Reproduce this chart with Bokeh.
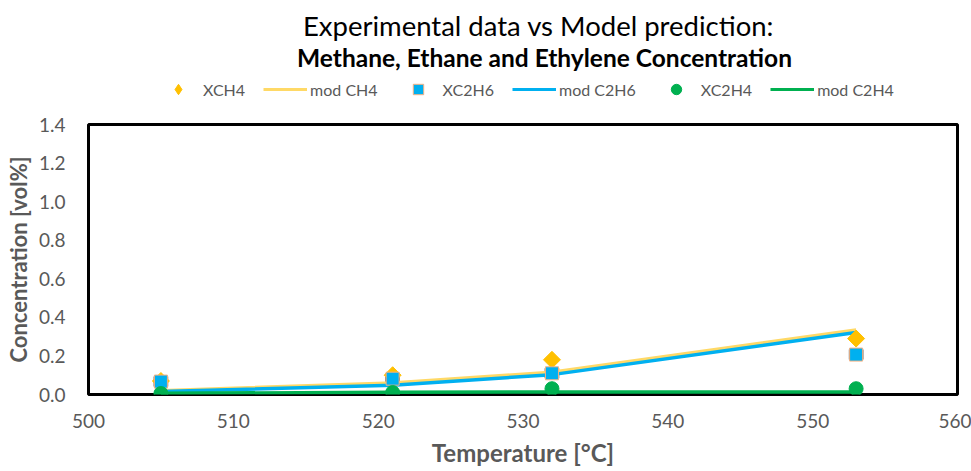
import math
from bokeh.plotting import figure
from bokeh.layouts import column
from bokeh.models import (ColumnDataSource, Legend, LegendItem, Label, FixedTicker,
                          PrintfTickFormatter, Range1d, Whisker, TeeHead)
from bokeh.embed import file_html
from bokeh.resources import INLINE

# ---- data ----
temps = [505, 521, 532, 553]
x_ch4 = [0.07, 0.10, 0.18, 0.29]
mod_ch4 = [0.02, 0.06, 0.115, 0.335]
x_c2h6 = [0.067, 0.082, 0.11, 0.207]
mod_c2h6 = [0.015, 0.048, 0.103, 0.322]
temp_err = [0.45, 0.45, 0.45, 0.45]
x_c2h4 = [0.005, 0.01, 0.03, 0.03]
mod_c2h4 = [0.006, 0.012, 0.013, 0.013]
x_ticks = [500, 510, 520, 530, 540, 550, 560]
y_ticks = [0.0, 0.2, 0.4, 0.6, 0.8, 1.0, 1.2, 1.4]

FONT = "Lato"
GREY = "#595959"
C_CH4_PT, C_CH4_LN = "#FFC000", "#FFD966"
C_C2H6 = "#00B0F0"
C_C2H4 = "#00B050"
DIAMOND_ANGLE = math.pi / 4

src = ColumnDataSource(dict(
    t=temps, xch4=x_ch4, mch4=mod_ch4, xc2h6=x_c2h6, mc2h6=mod_c2h6,
    xc2h4=x_c2h4, mc2h4=mod_c2h4,
    lo=[t - e for t, e in zip(temps, temp_err)],
    hi=[t + e for t, e in zip(temps, temp_err)],
))

LEFT, RIGHT = 88, 14
HEAD_H = 104

# ---------- header (titles + legend) ----------
head = figure(width=971, height=HEAD_H, output_backend="svg", toolbar_location=None,
              x_range=Range1d(LEFT, 971 - RIGHT), y_range=Range1d(0, HEAD_H),
              x_axis_location=None, y_axis_location=None,
              min_border_left=LEFT, min_border_right=RIGHT,
              min_border_top=0, min_border_bottom=0)
head.outline_line_color = None
head.xgrid.visible = False
head.ygrid.visible = False
head.background_fill_color = "white"
head.border_fill_color = "white"

head.add_layout(Label(x=538, y=HEAD_H - 25, text="Experimental data vs Model prediction:",
                      text_align="center", text_baseline="middle", text_font=FONT,
                      text_font_size="27.5px", text_color="black"))
head.add_layout(Label(x=544, y=HEAD_H - 57, text="Methane, Ethane and Ethylene Concentration",
                      text_align="center", text_baseline="middle", text_font=FONT,
                      text_font_size="24.5px", text_font_style="bold", text_color="black"))

# legend proxies (hidden in the header; only their legend swatches show)
h_ch4 = head.scatter("t", "xch4", source=src, marker="diamond", size=14,
                     fill_color=C_CH4_PT, line_color=C_CH4_PT, visible=False)
h_mch4 = head.line("t", "mch4", source=src, line_color=C_CH4_LN, line_width=3, visible=False)
h_c2h6 = head.scatter("t", "xc2h6", source=src, marker="square", size=10,
                      fill_color=C_C2H6, line_color="#F4B183", visible=False)
h_mc2h6 = head.line("t", "mc2h6", source=src, line_color=C_C2H6, line_width=3, visible=False)
h_c2h4 = head.scatter("t", "xc2h4", source=src, marker="circle", size=10,
                      fill_color=C_C2H4, line_color=C_C2H4, visible=False)
h_mc2h4 = head.line("t", "mc2h4", source=src, line_color=C_C2H4, line_width=3, visible=False)

legend = Legend(items=[
    LegendItem(label="XCH4", renderers=[h_ch4]),
    LegendItem(label="mod CH4", renderers=[h_mch4]),
    LegendItem(label="XC2H6", renderers=[h_c2h6]),
    LegendItem(label="mod C2H6", renderers=[h_mc2h6]),
    LegendItem(label="XC2H4", renderers=[h_c2h4]),
    LegendItem(label="mod C2H4", renderers=[h_mc2h4]),
], orientation="horizontal", location=(156 - LEFT, 2),
    border_line_color=None, background_fill_alpha=0,
    inactive_fill_alpha=0,
    label_text_font=FONT, label_text_font_size="16px", label_text_color=GREY,
    glyph_width=44, glyph_height=26, label_standoff=3, spacing=18,
    padding=0, margin=0)
head.add_layout(legend)

# ---------- main chart ----------
p = figure(width=971, height=471 - HEAD_H, output_backend="svg", toolbar_location=None,
           x_range=Range1d(500, 560), y_range=Range1d(0, 1.4),
           min_border_left=LEFT, min_border_right=RIGHT,
           min_border_top=124 - HEAD_H, min_border_bottom=77)
p.background_fill_color = "white"
p.border_fill_color = "white"
p.outline_line_color = "black"
p.outline_line_width = 3
p.xgrid.visible = False
p.ygrid.visible = False

for ax in (p.xaxis[0], p.yaxis[0]):
    ax.axis_line_color = None
    ax.major_tick_line_color = None
    ax.minor_tick_line_color = None
    ax.major_label_text_font = FONT
    ax.major_label_text_font_size = "19px"
    ax.major_label_text_color = GREY
    ax.axis_label_text_font = FONT
    ax.axis_label_text_font_style = "bold"
    ax.axis_label_text_color = GREY

p.xaxis.axis_label_text_font_size = "24px"
p.yaxis.axis_label_text_font_size = "22px"
p.xaxis.ticker = FixedTicker(ticks=x_ticks)
p.xaxis.formatter = PrintfTickFormatter(format="%d")
p.yaxis.ticker = FixedTicker(ticks=y_ticks)
p.yaxis.formatter = PrintfTickFormatter(format="%.1f")
p.xaxis.major_label_standoff = 13
p.yaxis.major_label_standoff = 17
p.xaxis.axis_label = "Temperature [°C]"
p.yaxis.axis_label = "Concentration [vol%]"
p.xaxis.axis_label_standoff = 7
p.yaxis.axis_label_standoff = 4

# model lines
p.line("t", "mch4", source=src, line_color=C_CH4_LN, line_width=3.5)
p.line("t", "mc2h6", source=src, line_color=C_C2H6, line_width=3.5)
p.line("t", "mc2h4", source=src, line_color=C_C2H4, line_width=3.5)

# experimental points
p.scatter("t", "xch4", source=src, marker="square", angle=DIAMOND_ANGLE, size=12,
          fill_color=C_CH4_PT, line_color=C_CH4_PT)
wh = Whisker(source=src, base="xc2h6", lower="lo", upper="hi", dimension="width",
             line_color="#404040", line_width=1.5,
             lower_head=TeeHead(size=10, line_color="#404040", line_width=1.5),
             upper_head=TeeHead(size=10, line_color="#404040", line_width=1.5))
p.add_layout(wh)
p.scatter("t", "xc2h6", source=src, marker="square", size=13,
          fill_color=C_C2H6, line_color="#F4B183", line_width=1)
p.scatter("t", "xc2h4", source=src, marker="circle", size=14,
          fill_color=C_C2H4, line_color=C_C2H4)

layout = column(head, p, spacing=0)
open("out.html", "w").write(file_html(layout, INLINE))
